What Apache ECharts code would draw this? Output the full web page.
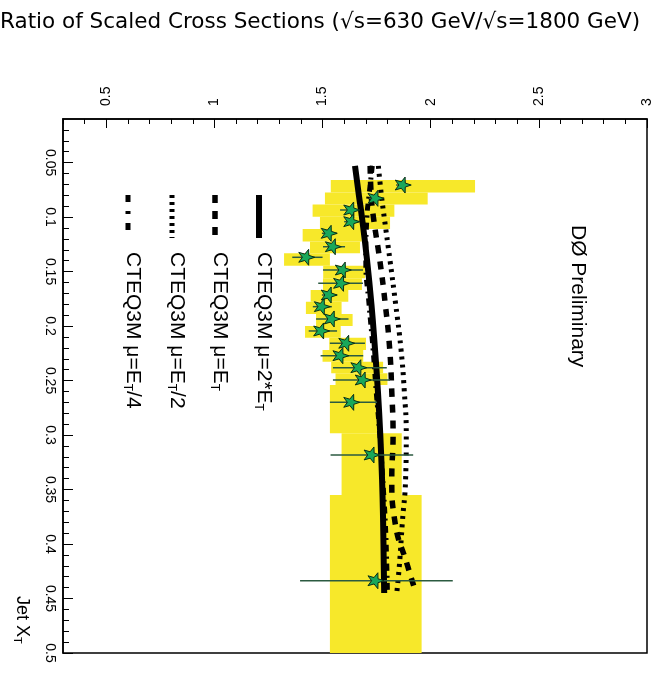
<!DOCTYPE html>
<html>
<head>
<meta charset="utf-8">
<script src="https://cdn.jsdelivr.net/npm/echarts@6/dist/echarts.min.js"></script>
<style>
  html, body { margin: 0; padding: 0; background: #fff; }
  #chart { width: 662px; height: 694px; }
</style>
</head>
<body>
<div id="chart"></div>
<script>
// bins in jet x_T and the systematic band (ratio low / high)
const binLo = [0.066, 0.0774, 0.0885, 0.0997, 0.111, 0.1224, 0.1332, 0.1446, 0.1562, 0.1669, 0.1776, 0.1889, 0.2, 0.2107, 0.222, 0.2327, 0.2433, 0.2541, 0.2984, 0.355];
const binHi = [0.0774, 0.0885, 0.0997, 0.111, 0.1224, 0.1332, 0.1446, 0.1562, 0.1669, 0.1776, 0.1889, 0.2, 0.2107, 0.222, 0.2327, 0.2433, 0.2541, 0.2984, 0.355, 0.5];
const bandLo = [1.538, 1.511, 1.454, 1.488, 1.408, 1.442, 1.322, 1.503, 1.502, 1.445, 1.423, 1.47, 1.419, 1.531, 1.50, 1.54, 1.56, 1.534, 1.588, 1.534];
const bandHi = [2.205, 1.986, 1.832, 1.812, 1.681, 1.673, 1.534, 1.696, 1.682, 1.619, 1.588, 1.639, 1.584, 1.701, 1.688, 1.78, 1.80, 1.752, 1.866, 1.958];

// data points with statistical errors
const ptXt = [0.0706, 0.0828, 0.0935, 0.1042, 0.1149, 0.1272, 0.1369, 0.1486, 0.1608, 0.1715, 0.1822, 0.1935, 0.2045, 0.2158, 0.2272, 0.2382, 0.2495, 0.270, 0.3183, 0.4337];
const ptRatio = [1.873, 1.747, 1.635, 1.635, 1.531, 1.550, 1.427, 1.596, 1.588, 1.531, 1.499, 1.545, 1.496, 1.612, 1.585, 1.668, 1.688, 1.635, 1.729, 1.747];
const errLo = [1.84, 1.715, 1.581, 1.60, 1.497, 1.502, 1.36, 1.502, 1.48, 1.497, 1.455, 1.47, 1.436, 1.534, 1.491, 1.548, 1.548, 1.534, 1.537, 1.396];
const errHi = [1.905, 1.78, 1.659, 1.67, 1.567, 1.604, 1.50, 1.687, 1.687, 1.567, 1.543, 1.62, 1.567, 1.696, 1.688, 1.797, 1.812, 1.752, 1.919, 2.102];

// CTEQ3M predictions
const curveXt = [0.053, 0.08, 0.1, 0.14, 0.18, 0.22, 0.26, 0.3, 0.34, 0.38, 0.42, 0.445];
const mu2Et = [1.650, 1.668, 1.682, 1.706, 1.726, 1.742, 1.756, 1.767, 1.775, 1.780, 1.783, 1.785];
const muEt = [1.72, 1.725, 1.735, 1.765, 1.79, 1.81, 1.82, 1.826, 1.82, 1.835, 1.893, 1.932];
const muEt2 = [1.758, 1.772, 1.785, 1.812, 1.838, 1.862, 1.878, 1.887, 1.884, 1.869, 1.855, 1.843];
const muEt4 = [1.73, 1.715, 1.705, 1.70, 1.715, 1.733, 1.748, 1.765, 1.778, 1.79, 1.797, 1.80];

// tick values
const ratioMajor = [0.5, 1, 1.5, 2, 2.5, 3];
const ratioMinor = [0.3, 0.4, 0.6, 0.7, 0.8, 0.9, 1.1, 1.2, 1.3, 1.4, 1.6, 1.7, 1.8, 1.9, 2.1, 2.2, 2.3, 2.4, 2.6, 2.7, 2.8, 2.9];
const xtMajor = [0.05, 0.1, 0.15, 0.2, 0.25, 0.3, 0.35, 0.4, 0.45, 0.5];
const xtMinor = [0.02, 0.03, 0.04, 0.06, 0.07, 0.08, 0.09, 0.11, 0.12, 0.13, 0.14, 0.16, 0.17, 0.18, 0.19, 0.21, 0.22, 0.23, 0.24, 0.26, 0.27, 0.28, 0.29, 0.31, 0.32, 0.33, 0.34, 0.36, 0.37, 0.38, 0.39, 0.41, 0.42, 0.43, 0.44, 0.46, 0.47, 0.48, 0.49];

const FONT = 'Liberation Sans';
const STAR = 'path://M0,-10L2.35,-3.24L9.51,-3.09L3.8,1.24L5.88,8.09L0,4L-5.88,8.09L-3.8,1.24L-9.51,-3.09L-2.35,-3.24Z';

const chart = echarts.init(document.getElementById('chart'));

function curve(vals) {
  return vals.map((v, i) => [v, curveXt[i]]);
}

function legendItem(x, line, label) {
  return {
    type: 'group', x: x, y: 195, rotation: -Math.PI / 2,
    children: [
      { type: 'line', shape: { x1: 0, y1: 0, x2: 43, y2: 0 }, style: line },
      {
        type: 'text', x: 57, y: -5,
        style: {
          text: label, fill: '#000', verticalAlign: 'middle', align: 'left',
          rich: {
            n: { fontFamily: FONT, fontSize: 21, fill: '#000' },
            s: { fontFamily: FONT, fontSize: 12, fill: '#000', padding: [11, 0, 0, 0] }
          }
        }
      }
    ]
  };
}

const bandData = binLo.map((lo, i) => [bandLo[i], bandHi[i], lo, binHi[i]]);
const errData = ptXt.map((x, i) => [errLo[i], errHi[i], x]);

chart.setOption({
  animation: false,
  backgroundColor: '#fff',
  title: {
    text: 'Ratio of Scaled Cross Sections (\u221As=630 GeV/\u221As=1800 GeV)',
    left: 0, top: 11, padding: 0,
    textStyle: { fontFamily: 'DejaVu Sans', fontSize: 21.5, fontWeight: 'normal', color: '#000' }
  },
  grid: {
    left: 63, top: 119, right: 15, bottom: 41,
    show: true, borderColor: '#000', borderWidth: 1.5, backgroundColor: 'transparent'
  },
  xAxis: [
    {
      type: 'value', position: 'top', min: 0.3, max: 3,
      splitLine: { show: false },
      axisLine: { show: true, lineStyle: { color: '#000', width: 1.5 } },
      axisTick: { show: true, inside: true, length: 9, customValues: ratioMajor, lineStyle: { color: '#000' } },
      axisLabel: {
        customValues: ratioMajor, rotate: -90, margin: 13, align: 'left', verticalAlign: 'middle',
        fontFamily: FONT, fontSize: 14, color: '#000',
        formatter: v => String(+v.toFixed(1))
      }
    },
    {
      type: 'value', position: 'top', min: 0.3, max: 3,
      splitLine: { show: false },
      axisLine: { show: false },
      axisTick: { show: true, inside: true, length: 5, customValues: ratioMinor, lineStyle: { color: '#000' } },
      axisLabel: { show: false }
    }
  ],
  yAxis: [
    {
      type: 'value', position: 'left', inverse: true, min: 0.01, max: 0.5,
      splitLine: { show: false },
      axisLine: { show: true, lineStyle: { color: '#000', width: 1.5 } },
      axisTick: { show: true, inside: true, length: 10, customValues: xtMajor, lineStyle: { color: '#000' } },
      axisLabel: {
        customValues: xtMajor, rotate: -90, margin: 6, align: 'center', verticalAlign: 'top',
        fontFamily: FONT, fontSize: 14, color: '#000',
        formatter: v => String(+v.toFixed(2))
      }
    },
    {
      type: 'value', position: 'left', inverse: true, min: 0.01, max: 0.5,
      splitLine: { show: false },
      axisLine: { show: false },
      axisTick: { show: true, inside: true, length: 6, customValues: xtMinor, lineStyle: { color: '#000' } },
      axisLabel: { show: false }
    }
  ],
  series: [
    {
      type: 'custom', z: 1,
      data: bandData,
      renderItem: (params, api) => {
        const p1 = api.coord([api.value(0), api.value(2)]);
        const p2 = api.coord([api.value(1), api.value(3)]);
        return {
          type: 'rect',
          shape: { x: p1[0], y: p1[1], width: p2[0] - p1[0], height: p2[1] - p1[1] },
          style: { fill: '#f7e82a' }
        };
      }
    },
    {
      type: 'line', z: 3, data: curve(mu2Et), showSymbol: false, smooth: true,
      lineStyle: { color: '#000', width: 6 }
    },
    {
      type: 'line', z: 3, data: curve(muEt), showSymbol: false, smooth: true,
      lineStyle: { color: '#000', width: 5.5, type: [8, 8] }
    },
    {
      type: 'line', z: 3, data: curve(muEt2), showSymbol: false, smooth: true,
      lineStyle: { color: '#000', width: 5, type: [3, 5] }
    },
    {
      type: 'line', z: 3, data: curve(muEt4), showSymbol: false, smooth: true,
      lineStyle: { color: '#000', width: 5, type: [7, 5, 2, 5] }
    },
    {
      type: 'custom', z: 4,
      data: errData,
      renderItem: (params, api) => {
        const a = api.coord([api.value(0), api.value(2)]);
        const b = api.coord([api.value(1), api.value(2)]);
        return {
          type: 'line',
          shape: { x1: a[0], y1: a[1], x2: b[0], y2: b[1] },
          style: { stroke: '#2b5a40', lineWidth: 1.5 }
        };
      }
    },
    {
      type: 'scatter', z: 5,
      data: ptXt.map((x, i) => [ptRatio[i], x]),
      symbol: STAR, symbolSize: 16, symbolRotate: -90,
      itemStyle: { color: '#19a85a', borderColor: '#0b2e18', borderWidth: 1, opacity: 1 }
    }
  ],
  graphic: [
    legendItem(259, { stroke: '#000', lineWidth: 6 }, '{n|CTEQ3M \u03BC=2*E}{s|T}'),
    legendItem(215, { stroke: '#000', lineWidth: 5.5, lineDash: [8, 8] }, '{n|CTEQ3M \u03BC=E}{s|T}'),
    legendItem(172, { stroke: '#000', lineWidth: 5, lineDash: [3, 4] }, '{n|CTEQ3M \u03BC=E}{s|T}{n|/2}'),
    legendItem(128, { stroke: '#000', lineWidth: 5, lineDash: [7, 9, 3, 9] }, '{n|CTEQ3M \u03BC=E}{s|T}{n|/4}'),
    {
      type: 'text', x: 578, y: 225, rotation: -Math.PI / 2,
      style: { text: 'D\u00D8 Preliminary', fontFamily: FONT, fontSize: 21, fill: '#000', align: 'left', verticalAlign: 'middle' }
    },
    {
      type: 'text', x: 22, y: 596, rotation: -Math.PI / 2,
      style: {
        text: '{n|Jet X}{s|T}', align: 'left', verticalAlign: 'middle',
        rich: {
          n: { fontFamily: FONT, fontSize: 18, fill: '#000' },
          s: { fontFamily: FONT, fontSize: 11, fill: '#000', padding: [10, 0, 0, 0] }
        }
      }
    }
  ]
});

window.addEventListener('resize', () => chart.resize());
</script>
</body>
</html>
